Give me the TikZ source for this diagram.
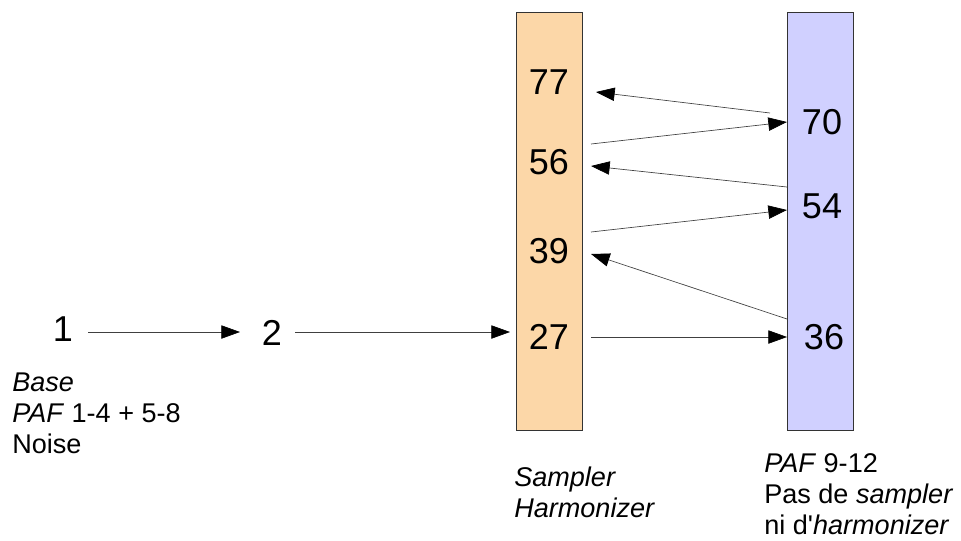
\documentclass[tikz,border=0pt]{standalone}
\usepackage{fontspec}
\setmainfont{Liberation Sans}
\usetikzlibrary{arrows.meta}
\definecolor{orangefill}{RGB}{252,215,168}
\definecolor{purplefill}{RGB}{208,208,255}
\begin{document}
\begin{tikzpicture}[x=0.75pt,y=-0.75pt,
  bar/.style={draw=black!80,line width=0.6pt},
  num/.style={font=\fontsize{27}{30}\selectfont,inner sep=0pt,anchor=center},
  lbl/.style={font=\fontsize{20.3}{23}\selectfont,align=left,inner sep=0pt,anchor=base west},
  conn/.style={draw=black!75,line width=0.5pt,-{Triangle[length=14pt,width=10pt,color=black,fill=black]}}]
\useasboundingbox (0,0) rectangle (961,540);
\draw[bar,fill=orangefill] (516,12) rectangle (582,430);
\draw[bar,fill=purplefill] (787,12) rectangle (853,430);
\node[num] (n1) at (63,329) {1};
\node[num] (n2) at (272,333) {2};
\node[num] (n77) at (549,82) {77};
\node[num] (n56) at (549,162) {56};
\node[num] (n39) at (549,251) {39};
\node[num] (n27) at (549,337) {27};
\node[num] (n70) at (822,122) {70};
\node[num] (n54) at (822,206) {54};
\node[num] (n36) at (824,337) {36};
\coordinate (a1s) at (88,332); \coordinate (a1e) at (240,332);
\coordinate (a2s) at (295,332); \coordinate (a2e) at (510,332);
\coordinate (r1s) at (770,113); \coordinate (r1e) at (596,92);
\coordinate (r2s) at (591,144); \coordinate (r2e) at (787,122);
\coordinate (r3s) at (787,187); \coordinate (r3e) at (591,166);
\coordinate (r4s) at (591,232); \coordinate (r4e) at (787,210);
\coordinate (r5s) at (787,319); \coordinate (r5e) at (591,254);
\coordinate (r6s) at (591,337); \coordinate (r6e) at (787,337);
\draw[conn] (a1s) -- (a1e);
\draw[conn] (a2s) -- (a2e);
\draw[conn] (r1s) -- (r1e);
\draw[conn] (r2s) -- (r2e);
\draw[conn] (r3s) -- (r3e);
\draw[conn] (r4s) -- (r4e);
\draw[conn] (r5s) -- (r5e);
\draw[conn] (r6s) -- (r6e);
\node[lbl] (lb) at (12,453) {\textit{Base}\\\textit{PAF} 1-4 + 5-8\\Noise};
\node[lbl] (ls) at (514,517) {\textit{Sampler}\\\textit{Harmonizer}};
\node[lbl] (lp) at (764,534) {\textit{PAF} 9-12\\Pas de \textit{sampler}\\ni d\textquotesingle\textit{harmonizer}};
\end{tikzpicture}
\end{document}
